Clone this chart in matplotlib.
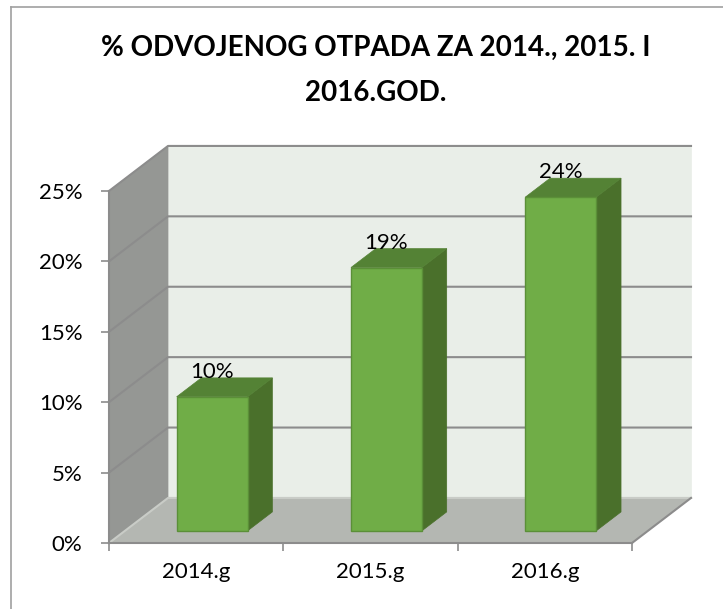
import matplotlib
matplotlib.use("Agg")
import matplotlib.pyplot as plt
from matplotlib.patches import Polygon
from matplotlib.lines import Line2D

categories = ["2014.g", "2015.g", "2016.g"]
shares = [0.0952, 0.187, 0.237]
y_ticks = [0.0, 0.05, 0.10, 0.15, 0.20, 0.25]
title_lines = ["% ODVOJENOG OTPADA ZA 2014., 2015. I", "2016.GOD."]

# oblique pseudo-3D: depth offset of back wall, in data units
DX, DY = 0.3385, 0.032
Z0, Z1 = 0.27, 0.69   # bar front / back depth
BAR_W = 0.407

GRID = "#8C8C8C"
FS = 16

plt.rcParams["font.family"] = ["Lato", "DejaVu Sans"]


def proj(x, y, z):
    return (x + z * DX, y + z * DY)


def poly(ax, pts, color, edge=None, z=0):
    ax.add_patch(Polygon(pts, closed=True, facecolor=color,
                         edgecolor=edge if edge else color, lw=1.0 if edge else 0.5,
                         zorder=z, clip_on=False))


fig = plt.figure(figsize=(7.23, 6.09), dpi=100)
ax = fig.add_axes([109 / 723, 66 / 609, 523 / 723, 352 / 609])
ax.set_xlim(-0.5, len(categories) - 0.5)
ax.set_ylim(0, y_ticks[-1])
ax.patch.set_visible(False)

x0, x1, ytop = -0.5, len(categories) - 0.5, y_ticks[-1]

# walls and floor
poly(ax, [proj(x0, 0, 1), proj(x1, 0, 1), proj(x1, ytop, 1), proj(x0, ytop, 1)], "#E9EEE8")
poly(ax, [proj(x0, 0, 0), proj(x0, 0, 1), proj(x0, ytop, 1), proj(x0, ytop, 0)], "#959794")
poly(ax, [proj(x0, 0, 0), proj(x1, 0, 0), proj(x1, 0, 1), proj(x0, 0, 1)], "#B4B7B2")

# gridlines on left and back walls
for t in y_ticks:
    pts = [proj(x0, t, 0), proj(x0, t, 1), proj(x1, t, 1)]
    col = GRID if t > 0 else "#C9CCC7"
    ax.add_line(Line2D([p[0] for p in pts], [p[1] for p in pts], color=col,
                       lw=1.5, zorder=1, clip_on=False))
fr = [proj(x1, 0, 0), proj(x1, 0, 1)]
ax.add_line(Line2D([p[0] for p in fr], [p[1] for p in fr], color=GRID, lw=1.5,
                   zorder=1, clip_on=False))

# bars
for i, v in enumerate(shares):
    l, r = i - BAR_W / 2, i + BAR_W / 2
    poly(ax, [proj(r, 0, Z0), proj(r, 0, Z1), proj(r, v, Z1), proj(r, v, Z0)], "#4A702B", z=2)
    poly(ax, [proj(l, v, Z0), proj(r, v, Z0), proj(r, v, Z1), proj(l, v, Z1)], "#548235", z=2)
    poly(ax, [proj(l, 0, Z0), proj(r, 0, Z0), proj(r, v, Z0), proj(l, v, Z0)], "#70AD47",
         edge="#5B8F38", z=3)
    lx, _ = proj(i, v, Z0)
    _, ly = proj(i, v, Z1)
    ax.text(lx, ly, f"{v:.0%}", ha="center", va="baseline", fontsize=FS, zorder=4)

for side in ("top", "right"):
    ax.spines[side].set_visible(False)
for side in ("left", "bottom"):
    ax.spines[side].set_color(GRID)
    ax.spines[side].set_linewidth(1.5)
    ax.spines[side].set_zorder(2.5)

ax.set_yticks(y_ticks)
ax.set_yticklabels([f"{t:.0%}" for t in y_ticks])
ax.tick_params(axis="y", direction="out", length=6, width=1.2, color=GRID, pad=13, labelsize=FS)

ax.set_xticks([k - 0.5 for k in range(len(categories) + 1)])
ax.set_xticklabels([""] * (len(categories) + 1))
ax.set_xticks(range(len(categories)), minor=True)
ax.set_xticklabels(categories, minor=True)
ax.tick_params(axis="x", which="major", direction="out", length=6, width=1.2, color=GRID)
ax.tick_params(axis="x", which="minor", length=0, pad=14, labelsize=FS)

# title
fig.text(376 / 723, 1 - 48 / 609, title_lines[0], ha="center", va="center",
         fontsize=20, fontweight="bold")
fig.text(376 / 723, 1 - 93 / 609, title_lines[1], ha="center", va="center",
         fontsize=20, fontweight="bold")

# chart border (cut at right/bottom in the original)
bx, by = 11 / 723, 1 - 7 / 609
fig.add_artist(Line2D([bx, bx], [0, by], color="#A0A0A0", lw=1.2))
fig.add_artist(Line2D([bx, 1], [by, by], color="#A0A0A0", lw=1.2))

fig.savefig("out.png", dpi=100)
